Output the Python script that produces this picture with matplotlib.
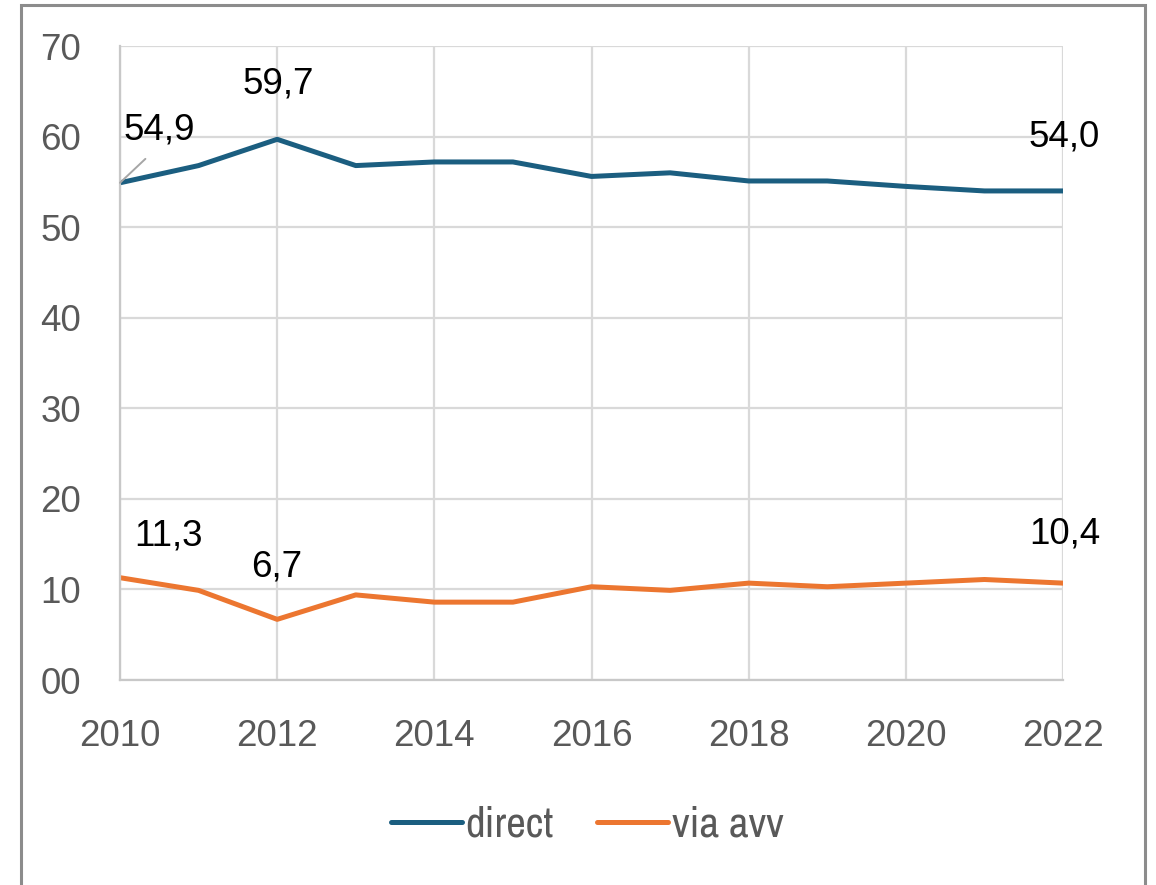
import matplotlib
matplotlib.use("Agg")
import matplotlib.pyplot as plt
from matplotlib import font_manager
from matplotlib.patches import Rectangle

# ==========================================
# Data
# ==========================================

years = [2010, 2011, 2012, 2013, 2014, 2015, 2016, 2017, 2018, 2019, 2020, 2021, 2022]
direct = [54.9, 56.8, 59.7, 56.8, 57.2, 57.2, 55.6, 56.0, 55.1, 55.1, 54.5, 54.0, 54.0]
via_avv = [11.3, 9.9, 6.7, 9.4, 8.6, 8.6, 10.3, 9.9, 10.7, 10.3, 10.7, 11.1, 10.7]

y_ticks = [0, 10, 20, 30, 40, 50, 60, 70]
y_tick_labels = ["00", "10", "20", "30", "40", "50", "60", "70"]
x_ticks = [2010, 2012, 2014, 2016, 2018, 2020, 2022]

# pick a regular condensed face for the legend if one is installed
def find_narrow():
    fonts = [f for f in font_manager.fontManager.ttflist
             if f.style == "normal" and f.weight in (400, "normal", "regular", "book")]
    for key in ("Liberation Sans Narrow", "Narrow", "Condensed"):
        for f in fonts:
            if key in f.name or (key == "Condensed" and f.stretch == "condensed"):
                return f.fname
    return None

narrow = find_narrow()

plt.rcParams["font.family"] = ["Liberation Sans", "DejaVu Sans"]

c_direct = "#1b5e80"
c_avv = "#ec7630"
c_text = "#595959"
c_grid = "#d9d9d9"

# ==========================================
# Plot
# ==========================================

fig = plt.figure(figsize=(11.56, 8.85), dpi=100)
ax = fig.add_axes([0.1038, 0.2316, 0.8158, 0.7164])

l1, = ax.plot(years, direct, color=c_direct, lw=3.6, solid_joinstyle="round", label="direct")
l2, = ax.plot(years, via_avv, color=c_avv, lw=3.6, solid_joinstyle="round", label="via avv")

ax.set_xlim(years[0], years[-1])
ax.set_ylim(0, 70)
ax.set_xticks(x_ticks)
ax.set_yticks(y_ticks)
ax.set_yticklabels(y_tick_labels)
ax.tick_params(length=0, labelsize=26.5, labelcolor=c_text)
ax.tick_params(axis="x", pad=28)
ax.tick_params(axis="y", pad=28)
ax.grid(True, color=c_grid, lw=1.6)
ax.set_axisbelow(True)
for s in ["top", "right"]:
    ax.spines[s].set_visible(False)
for s in ["left", "bottom"]:
    ax.spines[s].set_color("#c8c8c8")
    ax.spines[s].set_linewidth(1.6)

# data labels
def label(x, y, dx, dy, line=False):
    kw = {}
    if line:
        kw["arrowprops"] = dict(arrowstyle="-", color="#a6a6a6", lw=1.4,
                                shrinkA=9, shrinkB=0, relpos=(0.48, 0))
    ax.annotate(f"{y:.1f}".replace(".", ","), (x, y), xytext=(dx, dy),
                textcoords="offset points", ha="center", va="center",
                fontsize=26.5, color="black", **kw)

label(years[0], direct[0], 28, 38, line=True)
label(years[2], direct[2], 1, 40)
label(years[-1], 54.0, 1, 39)
label(years[0], via_avv[0], 35, 30)
label(years[2], via_avv[2], 0, 38)
label(years[-1], 10.4, 1, 37)

if narrow:
    prop = font_manager.FontProperties(fname=narrow, size=31)
else:
    prop = {"size": 25}
leg = fig.legend(handles=[l1, l2], loc="center", bbox_to_anchor=(0.508, 0.068),
                 ncol=2, frameon=False, handlelength=1.65, handletextpad=0.08,
                 columnspacing=1.0, prop=prop)
for t in leg.get_texts():
    t.set_color(c_text)
for h in leg.get_lines():
    h.set_solid_capstyle("round")

# chart frame
fig.patches.append(Rectangle((21 / 1156, -0.05), 1124 / 1156, 1.05 - 5 / 885,
                             transform=fig.transFigure, fill=False,
                             edgecolor="#8c8c8c", lw=2.2, clip_on=False))

fig.savefig("out.png", dpi=100)
